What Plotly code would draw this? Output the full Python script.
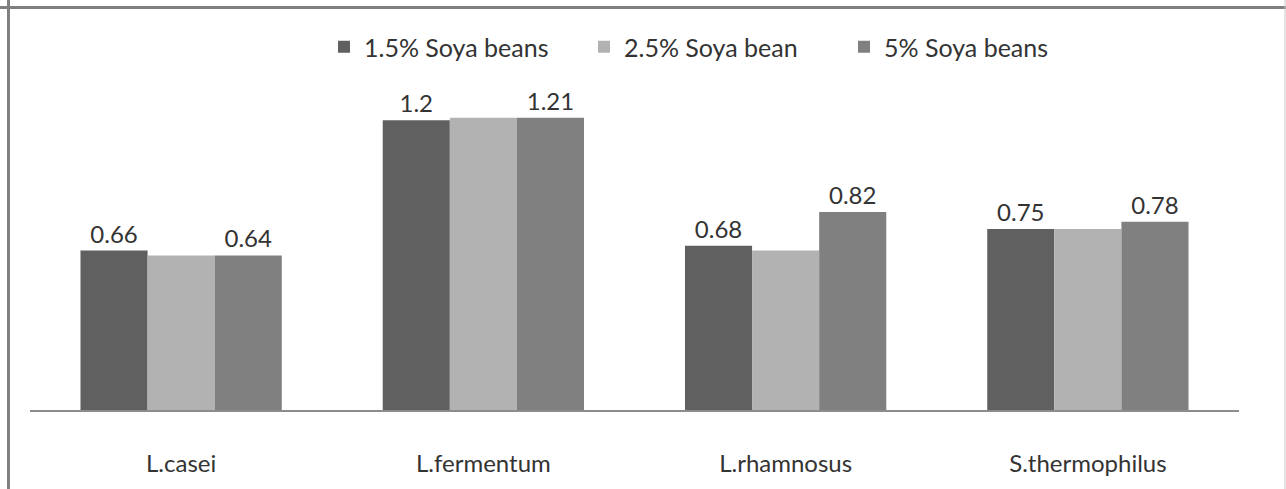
import plotly.graph_objects as go

categories = ["L.casei", "L.fermentum", "L.rhamnosus", "S.thermophilus"]
series_names = ["1.5% Soya beans", "2.5% Soya bean", "5% Soya beans"]
s1 = [0.66, 1.20, 0.68, 0.75]
s2 = [0.64, 1.21, 0.66, 0.75]
s3 = [0.64, 1.21, 0.82, 0.78]
show_labels = [True, False, True]
colors = ["#606060", "#b2b2b2", "#808080"]

FONT = "Lato"
fig = go.Figure()
for name, vals, col, lab in zip(series_names, [s1, s2, s3], colors, show_labels):
    fig.add_trace(go.Bar(
        x=categories, y=vals, name=name, marker=dict(color=col, line=dict(width=0)),
        text=[f"{v:g}" for v in vals] if lab else None,
        textposition="outside", cliponaxis=False,
        textfont=dict(size=24, color="#333333", family=FONT),
    ))

fig.update_layout(
    width=1286, height=489,
    margin=dict(l=30, r=47, t=70, b=79, autoexpand=False),
    paper_bgcolor="white", plot_bgcolor="white",
    barmode="group", bargap=0.334, bargroupgap=0,
    font=dict(family=FONT, color="#333333"),
    legend=dict(orientation="h", x=0.5 + 79.5 / 1209, xanchor="center", y=1 - 47 / 489, yref="container",
                yanchor="middle", font=dict(size=25, color="#333333", family=FONT),
                traceorder="normal", itemwidth=30, entrywidth=215, entrywidthmode="pixels"),
    xaxis=dict(showline=True, linecolor="#8c8c8c", linewidth=2, ticks="", showgrid=False,
               tickfont=dict(size=24, color="#333333", family=FONT), ticklabelstandoff=31),
    yaxis=dict(range=[0, 1.408], visible=False, showgrid=False, zeroline=False),
    showlegend=True,
)
# outer frame
fig.add_shape(type="line", xref="paper", yref="paper", x0=-21.5/1209, x1=-21.5/1209, y0=-2, y1=2,
              line=dict(color="#808080", width=3))
fig.add_shape(type="line", xref="paper", yref="paper", x0=-1, x1=2, y0=(410-7.5)/340, y1=(410-7.5)/340,
              line=dict(color="#808080", width=3))
fig.add_shape(type="line", xref="paper", yref="paper", x0=(1285-30)/1209, x1=(1285-30)/1209, y0=-2, y1=2,
              line=dict(color="#c8c8c8", width=1))
fig.write_html("out.html", post_script="document.body.style.margin='0';",
               config={"displayModeBar": False})
